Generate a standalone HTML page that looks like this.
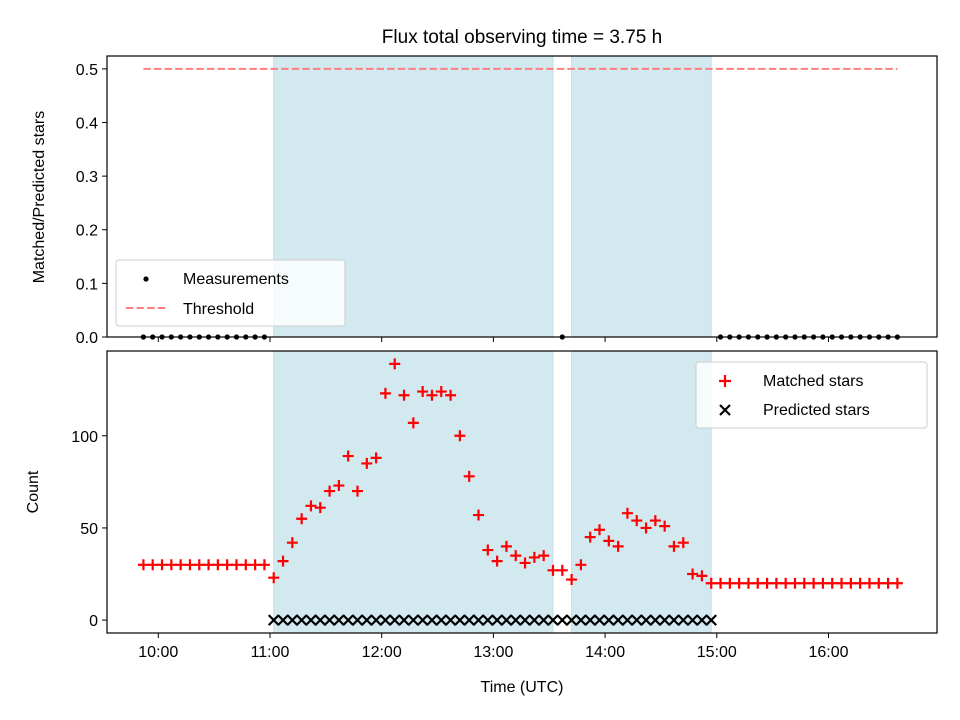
<!DOCTYPE html>
<html><head><meta charset="utf-8"><style>
body{margin:0;background:#fff}
svg{display:block;font-family:"Liberation Sans","DejaVu Sans",sans-serif}
</style></head><body>
<svg id="chart" width="960" height="720" viewBox="0 0 960 720"></svg>
<script>
const times = ["09:52","09:57","10:02","10:07","10:12","10:17","10:22","10:27","10:32","10:37","10:42","10:47","10:52","10:57",
"11:02","11:07","11:12","11:17","11:22","11:27","11:32","11:37","11:42","11:47","11:52","11:57",
"12:02","12:07","12:12","12:17","12:22","12:27","12:32","12:37","12:42","12:47","12:52","12:57",
"13:02","13:07","13:12","13:17","13:22","13:27","13:32","13:37","13:42","13:47","13:52","13:57",
"14:02","14:07","14:12","14:17","14:22","14:27","14:32","14:37","14:42","14:47","14:52","14:57",
"15:02","15:07","15:12","15:17","15:22","15:27","15:32","15:37","15:42","15:47","15:52","15:57",
"16:02","16:07","16:12","16:17","16:22","16:27","16:32","16:37"];
const matched = [30,30,30,30,30,30,30,30,30,30,30,30,30,30,
23,32,42,55,62,61,70,73,89,70,85,88,
123,139,122,107,124,122,124,122,100,78,57,38,
32,40,35,31,34,35,27,27,22,30,45,49,
43,40,58,54,50,54,51,40,42,25,24,20,
20,20,20,20,20,20,20,20,20,20,20,20,
20,20,20,20,20,20,20,20];
const predictedIdx = [14,61];   // range of indices with predicted stars
const predictedVal = 0;
const measIdx = [0,1,2,3,4,5,6,7,8,9,10,11,12,13,45,62,63,64,65,66,67,68,69,70,71,72,73,74,75,76,77,78,79,80,81];
const measVal = 0;
const threshold = 0.5;
const thresholdSpan = ["09:52","16:37"];
const shadeSpans = [["11:02","13:32"],["13:42","14:57"]];
const xTicks = ["10:00","11:00","12:00","13:00","14:00","15:00","16:00"];
const topTicks = [0.0,0.1,0.2,0.3,0.4,0.5];
const botTicks = [0,50,100];

const NS="http://www.w3.org/2000/svg";
const svg=document.getElementById('chart');
function mk(tag,attrs,parent,text){const e=document.createElementNS(NS,tag);for(const k in attrs)e.setAttribute(k,attrs[k]);if(text!==undefined)e.textContent=text;(parent||svg).appendChild(e);return e;}
function tmin(s){const p=s.split(':');return +p[0]*60+ +p[1];}
const L=107,R=937,T1=56,B1=337,T2=351,B2=633;
function X(s){return 158.3+(tmin(s)-600)/60*111.7;}
function Y1(v){return B1-(v-0)/0.524*(B1-T1);}
function Y2(v){return B2-(v+7)/153*(B2-T2);}

// shading
shadeSpans.forEach(s=>{
 [[T1,B1],[T2,B2]].forEach(([t,b])=>{
  const r=mk('rect',{x:X(s[0]),y:t,width:X(s[1])-X(s[0]),height:b-t,fill:'#d3e9f0',stroke:'#c2dfe9','stroke-width':1});
  
  
 });
});

// threshold
const th=mk('line',{x1:X(thresholdSpan[0]),x2:X(thresholdSpan[1]),y1:Y1(threshold),y2:Y1(threshold),stroke:'#ff7f7f','stroke-width':2,'stroke-dasharray':'7.4,3.2'});



// measurements
measIdx.forEach(i=>{
 const c=mk('circle',{cx:X(times[i]),cy:Y1(measVal),r:2.6,fill:'#000'});
 
 
});

// predicted
for(let i=predictedIdx[0];i<=predictedIdx[1];i++){
 const x=X(times[i]),y=Y2(predictedVal),d=5;
 const p=mk('path',{d:`M${x-d},${y-d}L${x+d},${y+d}M${x-d},${y+d}L${x+d},${y-d}`,stroke:'#000','stroke-width':2.2});
 
 
}
// matched
matched.forEach((v,i)=>{
 const x=X(times[i]),y=Y2(v),d=5.5;
 const p=mk('path',{d:`M${x-d},${y}L${x+d},${y}M${x},${y-d}L${x},${y+d}`,stroke:'#ff0000','stroke-width':2.2});
 
 
});

// axes frames
[[T1,B1,'top-axes-frame'],[T2,B2,'bottom-axes-frame']].forEach(([t,b,n])=>{
 const r=mk('rect',{x:L,y:t,width:R-L,height:b-t,fill:'none',stroke:'#000','stroke-width':1.2});
 
 
});
// x ticks
xTicks.forEach(s=>{
 const x=X(s);
 mk('line',{x1:x,x2:x,y1:B1,y2:B1+5,stroke:'#000','stroke-width':1});
 mk('line',{x1:x,x2:x,y1:B2,y2:B2+5,stroke:'#000','stroke-width':1});
 const t=mk('text',{x:x,y:B2+24,'text-anchor':'middle','font-size':16},null,s);
 
 
});
topTicks.forEach(v=>{
 const y=Y1(v);
 mk('line',{x1:L-5,x2:L,y1:y,y2:y,stroke:'#000','stroke-width':1});
 const t=mk('text',{x:L-9,y:y+6,'text-anchor':'end','font-size':16},null,v.toFixed(1));
 
 
});
botTicks.forEach(v=>{
 const y=Y2(v);
 mk('line',{x1:L-5,x2:L,y1:y,y2:y,stroke:'#000','stroke-width':1});
 const t=mk('text',{x:L-9,y:y+6,'text-anchor':'end','font-size':16},null,String(v));
 
 
});
</script>
<svg width="960" height="720" viewBox="0 0 960 720" style="position:absolute;left:0;top:0;font-family:'Liberation Sans','DejaVu Sans',sans-serif">
 <text x="522" y="43" text-anchor="middle" font-size="19">Flux total observing time = 3.75 h</text>
 <text x="522" y="692" text-anchor="middle" font-size="16">Time (UTC)</text>
 <text transform="translate(44,197) rotate(-90)" text-anchor="middle" font-size="16">Matched/Predicted stars</text>
 <text transform="translate(38,492) rotate(-90)" text-anchor="middle" font-size="16">Count</text>
 <g>
  <rect x="116" y="260" width="229" height="66" rx="3" fill="#ffffff" fill-opacity="0.8" stroke="#cccccc" stroke-width="1"/>
  <circle cx="146" cy="279" r="2.6" fill="#000"/>
  <text x="183" y="284" font-size="16">Measurements</text>
  <line x1="126" x2="166" y1="308" y2="308" stroke="#ff7f7f" stroke-width="2" stroke-dasharray="7.4,3.2"/>
  <text x="183" y="314" font-size="16">Threshold</text>
 </g>
 <g>
  <rect x="696" y="362" width="231" height="66" rx="3" fill="#ffffff" fill-opacity="0.8" stroke="#cccccc" stroke-width="1"/>
  <path d="M719,381L731,381M725,375L725,387" stroke="#ff0000" stroke-width="2.2"/>
  <text x="763" y="386" font-size="16">Matched stars</text>
  <path d="M720,405L730,415M720,415L730,405" stroke="#000" stroke-width="2.2"/>
  <text x="763" y="415" font-size="16">Predicted stars</text>
 </g>
</svg>
</body></html>
